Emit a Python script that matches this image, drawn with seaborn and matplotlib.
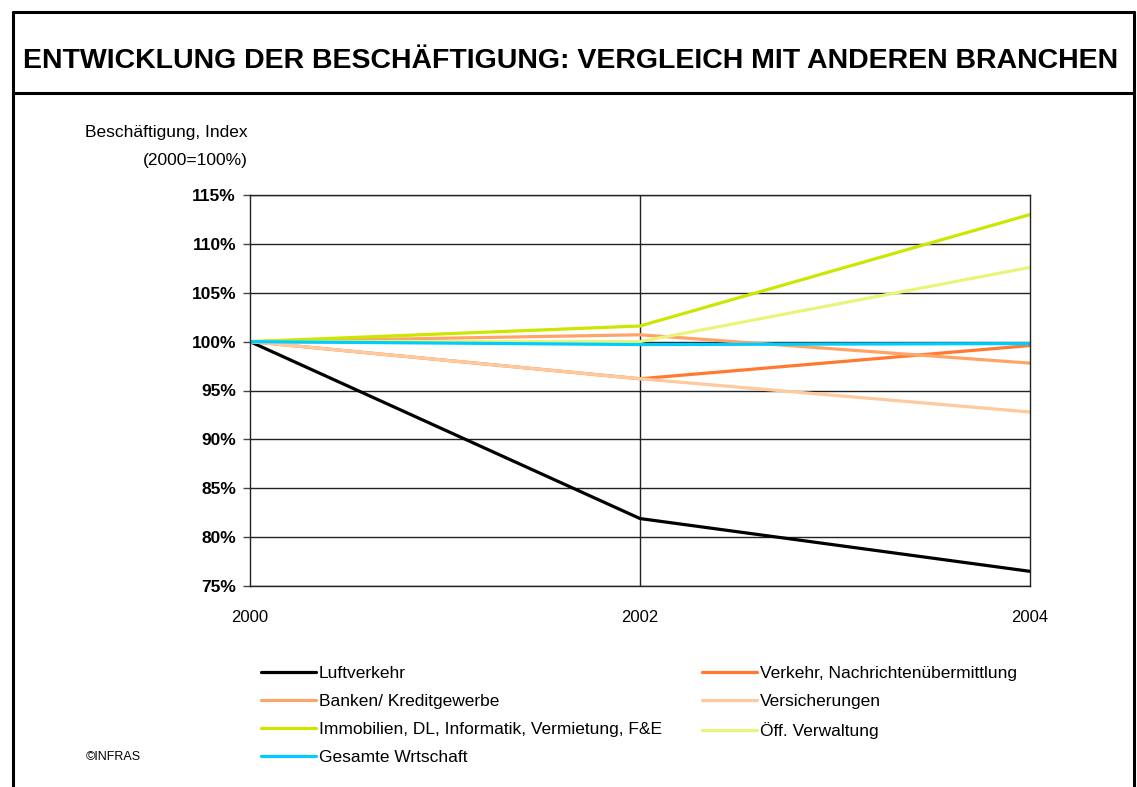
import numpy as np
import pandas as pd
import matplotlib
matplotlib.use("Agg")
import matplotlib.pyplot as plt
import seaborn as sns
from matplotlib.lines import Line2D

# ==========================================
# Beschaeftigung: Vergleich mit anderen Branchen
# ==========================================

years = [2000, 2002, 2004]
year_labels = ["2000", "2002", "2004"]

luftverkehr = [100.0, 81.9, 76.5]
verkehr = [100.0, 96.2, 99.6]
banken = [100.0, 100.7, 97.8]
versicherungen = [100.0, 96.2, 92.8]
immobilien = [100.0, 101.6, 113.0]
verwaltung = [100.0, 100.0, 107.6]
gesamt = [100.0, 99.7, 99.8]

series_names = [
    "Luftverkehr",
    "Verkehr, Nachrichtenübermittlung",
    "Banken/ Kreditgewerbe",
    "Versicherungen",
    "Immobilien, DL, Informatik, Vermietung, F&E",
    "Öff. Verwaltung",
    "Gesamte Wrtschaft",
]
series_values = [luftverkehr, verkehr, banken, versicherungen, immobilien, verwaltung, gesamt]
series_colors = ["#000000", "#FF7A2E", "#FFA468", "#FFC99E", "#CCE600", "#E8F57A", "#00CCFF"]

y_ticks = [75, 80, 85, 90, 95, 100, 105, 110, 115]

# long-form table for seaborn
rows = []
for name, vals in zip(series_names, series_values):
    for yr, v in zip(years, vals):
        rows.append({"Jahr": yr, "Index": v, "Branche": name})
df = pd.DataFrame(rows)

sns.set_style("white")
plt.rcParams["font.family"] = ["Liberation Sans", "DejaVu Sans"]
plt.rcParams["text.color"] = "black"
plt.rcParams["xtick.color"] = "black"
plt.rcParams["ytick.color"] = "black"

fig = plt.figure(figsize=(11.37, 7.87), dpi=100)
W, H = 1137, 787

ax = fig.add_axes([250 / W, 1 - 586 / H, 780 / W, 391 / H])
palette = dict(zip(series_names, series_colors))
sns.lineplot(data=df, x="Jahr", y="Index", hue="Branche", hue_order=series_names,
             palette=palette, linewidth=2.3, ax=ax, legend=False)

ax.set_xlim(2000, 2004)
ax.set_ylim(75, 115)
ax.set_yticks(y_ticks)
ax.set_yticklabels([f"{t}%" for t in y_ticks], fontweight="bold", fontsize=12.5)
ax.set_xticks(years)
ax.set_xticklabels(year_labels, fontsize=12)
ax.set_xlabel("")
ax.set_ylabel("")
ax.tick_params(axis="x", length=0, pad=17)
ax.tick_params(axis="y", length=5, width=1, color="#444444", direction="out", pad=5, left=True)
for y in y_ticks:
    ax.axhline(y, color="#222222", linewidth=1, zorder=0)
ax.axvline(2002, color="#222222", linewidth=1, zorder=0)
for s in ax.spines.values():
    s.set_visible(True)
    s.set_color("#222222")
    s.set_linewidth(1)

# axis caption
fig.text(248 / W, 1 - 133 / H, "Beschäftigung, Index", ha="right", va="center", fontsize=12.5)
fig.text(248 / W, 1 - 160 / H, "(2000=100%)", ha="right", va="center", fontsize=12.5)

# title band and frame
fig.text(571 / W, 1 - 61 / H, "ENTWICKLUNG DER BESCHÄFTIGUNG: VERGLEICH MIT ANDEREN BRANCHEN",
         ha="center", va="center", fontsize=20.5, fontweight="bold")
frame_kw = dict(color="black", linewidth=2.2, transform=fig.transFigure, clip_on=False)
fig.add_artist(Line2D([13 / W, 13 / W], [0, 1 - 12 / H], **frame_kw))
fig.add_artist(Line2D([1134 / W, 1134 / W], [0, 1 - 12 / H], **frame_kw))
fig.add_artist(Line2D([13 / W, 1134 / W], [1 - 12 / H, 1 - 12 / H], **frame_kw))
fig.add_artist(Line2D([13 / W, 1134 / W], [1 - 93 / H, 1 - 93 / H], **frame_kw))

# legend, row-major order in two columns
order = [0, 2, 4, 6, 1, 3, 5]
handles = [Line2D([0], [0], color=series_colors[i], linewidth=2.3) for i in order]
labels = [series_names[i] for i in order]
fig.legend(handles, labels, ncol=2, loc="upper left", bbox_to_anchor=(245 / W, 1 - 650 / H),
           frameon=False, fontsize=12.5, handlelength=3.2, handletextpad=0.15,
           columnspacing=2.3, labelspacing=0.75)

fig.text(86 / W, 1 - 757 / H, "©INFRAS", ha="left", va="center", fontsize=9)

fig.savefig("out.png", dpi=100)
